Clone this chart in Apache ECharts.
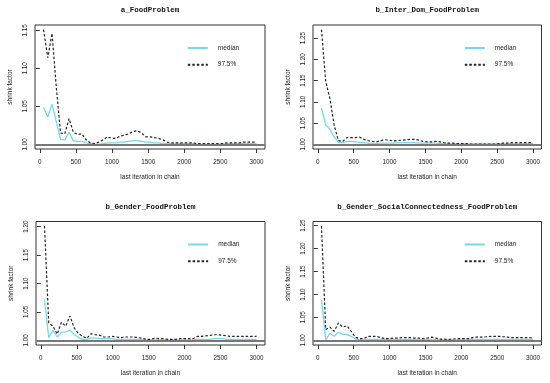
<!DOCTYPE html>
<html><head><meta charset="utf-8">
<script src="https://cdn.jsdelivr.net/npm/echarts@6/dist/echarts.min.js"></script>
<style>html,body{margin:0;padding:0;background:#fff}#c{width:550px;height:383px}</style>
</head><body><div id="c"></div><script>
// last iteration in chain (x positions of the shrink factor estimates)
const iters = [51,110,169,228,287,346,405,464,523,582,641,700,759,818,877,936,995,1054,1113,1172,1231,1290,1349,1408,1467,1526,1585,1644,1703,1762,1821,1880,1939,1998,2057,2116,2175,2234,2293,2352,2411,2470,2529,2588,2647,2706,2765,2824,2883,2942,3000];

const panelTitles = ['a_FoodProblem','b_Inter_Dom_FoodProblem','b_Gender_FoodProblem','b_Gender_SocialConnectedness_FoodProblem'];
const seriesNames = ['median','97.5%'];
const xTicks = [0,500,1000,1500,2000,2500,3000];
const yTicksA = [1.00,1.05,1.10,1.15];
const yTicksB = [1.00,1.05,1.10,1.15,1.20,1.25];
const yTicksC = [1.00,1.05,1.10,1.15,1.20];
const yTicksD = [1.00,1.05,1.10,1.15,1.20,1.25];

const medianA = [1.049,1.036,1.053,1.030,1.007,1.006,1.016,1.005,1.004,1.004,
 1.002,1.001,1.000,1.000,1.001,1.002,1.002,1.002,1.003,1.003,
 1.004,1.005,1.005,1.004,1.003,1.003,1.002,1.002,1.001,1.001,
 1.001,1.001,1.001,1.001,1.001,1.001,1.000,1.000,1.000,1.000,
 1.000,1.000,1.000,1.001,1.001,1.001,1.001,1.001,1.001,1.001,1.001];
const upperA = [1.151,1.114,1.146,1.075,1.015,1.014,1.034,1.016,1.013,1.014,
 1.006,1.002,1.001,1.003,1.006,1.010,1.008,1.008,1.011,1.012,
 1.014,1.017,1.018,1.015,1.010,1.010,1.009,1.008,1.006,1.003,
 1.002,1.002,1.002,1.002,1.002,1.002,1.001,1.001,1.001,1.001,
 1.001,1.001,1.001,1.002,1.002,1.002,1.002,1.003,1.003,1.003,1.003];

const medianB = [1.086,1.045,1.036,1.017,1.005,1.004,1.007,1.007,1.006,1.005,
 1.004,1.003,1.002,1.002,1.003,1.003,1.003,1.003,1.004,1.004,
 1.004,1.004,1.004,1.003,1.003,1.003,1.003,1.003,1.002,1.002,
 1.002,1.001,1.001,1.001,1.001,1.001,1.001,1.001,1.001,1.001,
 1.001,1.001,1.001,1.001,1.001,1.002,1.002,1.002,1.002,1.002,1.002];
const upperB = [1.270,1.148,1.108,1.045,1.009,1.007,1.016,1.016,1.016,1.017,
 1.012,1.009,1.007,1.006,1.009,1.011,1.010,1.008,1.009,1.010,
 1.011,1.012,1.012,1.010,1.007,1.006,1.006,1.007,1.006,1.004,
 1.003,1.003,1.002,1.002,1.002,1.001,1.001,1.001,1.001,1.001,
 1.001,1.001,1.002,1.003,1.003,1.004,1.004,1.004,1.004,1.004,1.004];

const medianC = [1.072,1.005,1.018,1.006,1.014,1.015,1.018,1.011,1.005,1.002,
 1.002,1.004,1.004,1.003,1.003,1.003,1.003,1.002,1.002,1.002,
 1.002,1.002,1.002,1.002,1.001,1.001,1.001,1.001,1.001,1.001,
 1.001,1.001,1.001,1.001,1.001,1.001,1.002,1.002,1.002,1.002,
 1.003,1.003,1.003,1.002,1.002,1.002,1.002,1.002,1.002,1.002,1.002];
const upperC = [1.201,1.031,1.025,1.011,1.032,1.025,1.043,1.022,1.012,1.007,
 1.004,1.012,1.010,1.009,1.006,1.006,1.007,1.006,1.005,1.006,
 1.006,1.006,1.005,1.004,1.002,1.002,1.004,1.003,1.003,1.002,
 1.002,1.002,1.003,1.003,1.003,1.003,1.007,1.007,1.008,1.009,
 1.010,1.010,1.009,1.008,1.007,1.007,1.007,1.007,1.007,1.007,1.007];

const medianD = [1.088,1.002,1.015,1.009,1.018,1.013,1.013,1.009,1.004,1.001,
 1.001,1.002,1.002,1.002,1.002,1.002,1.002,1.002,1.002,1.002,
 1.002,1.002,1.002,1.002,1.002,1.002,1.001,1.001,1.001,1.001,
 1.001,1.001,1.001,1.002,1.002,1.002,1.002,1.002,1.002,1.002,
 1.002,1.002,1.002,1.002,1.002,1.002,1.002,1.002,1.002,1.002,1.002];
const upperD = [1.249,1.024,1.029,1.020,1.038,1.029,1.032,1.020,1.007,1.004,
 1.004,1.009,1.009,1.009,1.006,1.004,1.004,1.005,1.005,1.006,
 1.006,1.006,1.005,1.005,1.004,1.005,1.007,1.005,1.003,1.003,
 1.002,1.003,1.004,1.004,1.004,1.004,1.007,1.007,1.007,1.008,
 1.009,1.009,1.009,1.008,1.007,1.006,1.006,1.006,1.006,1.006,1.005];

const panels = [
  {median: medianA, upper: upperA, yTicks: yTicksA},
  {median: medianB, upper: upperB, yTicks: yTicksB},
  {median: medianC, upper: upperC, yTicks: yTicksC},
  {median: medianD, upper: upperD, yTicks: yTicksD}
];

// layout (pixels)
const L = [
  {left: 35,  top: 25,  width: 230,   height: 124},
  {left: 313, top: 25,  width: 228.5, height: 124},
  {left: 36,  top: 221.5, width: 229, height: 123.5},
  {left: 313, top: 221.5, width: 228.5, height: 123.5}
];

const MEDIAN_COLOR = '#79d6f0';
const SANS = 'Liberation Sans, Arial, sans-serif';
const option = {
  animation: false,
  backgroundColor: '#fff',
  title: [], grid: [], xAxis: [], yAxis: [], legend: [], series: []
};

panels.forEach((p, i) => {
  const g = L[i];
  const all = p.median.concat(p.upper);
  const lo = Math.min(1, Math.min.apply(null, all));
  const hi = Math.max.apply(null, all);
  const dy = hi - lo;
  const xlo = iters[0], xhi = iters[iters.length - 1], dx = xhi - xlo;
  option.title.push({
    text: panelTitles[i],
    left: g.left + g.width / 2, top: g.top - 18.5, textAlign: 'center', padding: 0,
    textStyle: {fontFamily: 'Liberation Mono, monospace', fontWeight: 'bold', fontSize: 7.5, color: '#111'}
  });
  option.grid.push({left: g.left, top: g.top, width: g.width, height: g.height,
    show: true, borderColor: '#333', borderWidth: 1, backgroundColor: 'transparent'});
  option.xAxis.push({
    type: 'value', gridIndex: i, min: xlo - 0.04 * dx, max: xhi + 0.04 * dx,
    name: 'last iteration in chain', nameLocation: 'middle', nameGap: 25,
    nameTextStyle: {fontFamily: SANS, fontSize: 6.5, color: '#222'},
    axisLine: {show: false},
    axisTick: {show: true, inside: false, length: 4, customValues: xTicks, lineStyle: {color: '#333'}},
    axisLabel: {show: true, customValues: xTicks, margin: 10, fontFamily: SANS, fontSize: 6.3, color: '#222',
      formatter: v => String(Math.round(v))},
    splitLine: {show: false}
  });
  option.yAxis.push({
    type: 'value', gridIndex: i, min: lo - 0.04 * dy, max: hi + 0.04 * dy,
    name: 'shrink factor', nameLocation: 'middle', nameGap: 21, nameRotate: 90,
    nameTextStyle: {fontFamily: SANS, fontSize: 6.5, color: '#222'},
    axisLine: {show: false},
    axisTick: {show: true, inside: false, length: 4, customValues: p.yTicks, lineStyle: {color: '#333'}},
    axisLabel: {show: true, customValues: p.yTicks, rotate: 90, margin: 7, fontFamily: SANS, fontSize: 6.3, color: '#222',
      formatter: v => v.toFixed(2)},
    splitLine: {show: false}
  });
  option.legend.push({
    left: g.left + g.width * 0.66, top: g.top + 19.5, orient: 'vertical', padding: 0,
    itemWidth: 20, itemHeight: 8, itemGap: 9.7,
    itemStyle: {opacity: 0},
    textStyle: {fontFamily: SANS, fontSize: 6.5, color: '#222', padding: [0, 0, 0, 5]},
    data: seriesNames.map(n => ({name: n})),
    selectedMode: false
  });
  option.series.push({
    name: seriesNames[0], type: 'line', xAxisIndex: i, yAxisIndex: i, symbol: 'none',
    lineStyle: {color: MEDIAN_COLOR, width: 1.3}, itemStyle: {color: MEDIAN_COLOR},
    data: iters.map((x, k) => [x, p.median[k]]),
    markLine: {silent: true, symbol: 'none', label: {show: false},
      lineStyle: {color: '#777', width: 1.8, type: 'solid'}, data: [{yAxis: 1}]}
  });
  option.series.push({
    name: seriesNames[1], type: 'line', xAxisIndex: i, yAxisIndex: i, symbol: 'none',
    lineStyle: {color: '#222', width: 1.2, type: [2.5, 2]}, itemStyle: {color: '#222'},
    data: iters.map((x, k) => [x, p.upper[k]])
  });
});

const chart = echarts.init(document.getElementById('c'), null, {renderer: 'canvas'});
chart.setOption(option);
</script></body></html>
